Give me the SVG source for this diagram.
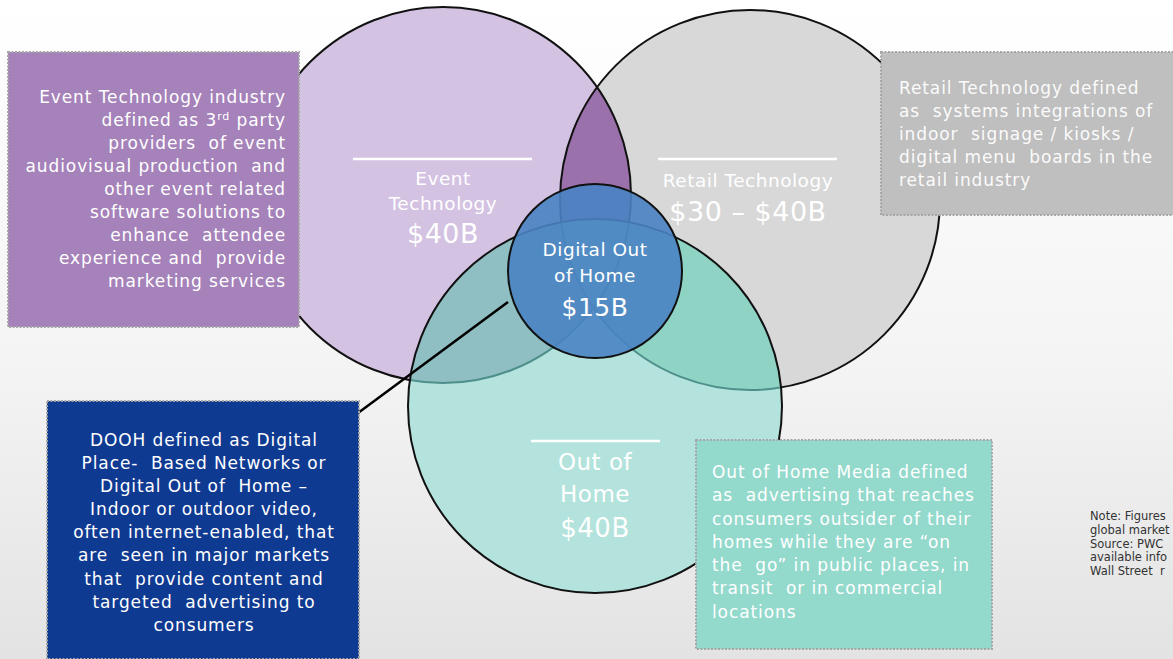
<svg xmlns="http://www.w3.org/2000/svg" width="1173" height="659" viewBox="0 0 1173 659">
  <defs>
    <linearGradient id="bg" x1="0" y1="0" x2="0" y2="1">
      <stop offset="0" stop-color="#ffffff"/>
      <stop offset="0.55" stop-color="#f4f4f4"/>
      <stop offset="1" stop-color="#e3e3e3"/>
    </linearGradient>
    <clipPath id="clipPurple"><circle cx="443" cy="195" r="188"/></clipPath>
    <clipPath id="clipGray"><circle cx="750" cy="200" r="190"/></clipPath>
    <clipPath id="clipTeal"><circle cx="595" cy="406" r="187"/></clipPath>
    <style>
      text { white-space: pre; }
      .ring { fill: none; stroke: #111; stroke-width: 2; }
      .inner-arc { fill: none; stroke: #4e8f8b; stroke-width: 2; }
      .box { stroke: #a6a6a6; stroke-width: 2; stroke-dasharray: 2 1.5; }
      .boxtext { font-family: "DejaVu Sans", "Liberation Sans", sans-serif; font-size: 17px; fill: #ffffff; letter-spacing: 0.9px; }
      .label { font-family: "DejaVu Sans", "Liberation Sans", sans-serif; fill: #ffffff; text-anchor: middle; letter-spacing: 0.5px; }
      .rule { stroke: #ffffff; stroke-width: 2.5; }
      .note { font-family: "DejaVu Sans", "Liberation Sans", sans-serif; font-size: 11.5px; fill: #333333; }
    </style>
  </defs>

  <rect width="1173" height="659" fill="url(#bg)"/>

  <!-- Venn circles -->
  <g id="circle-event">
    <circle cx="443" cy="195" r="188" fill="#d4c2e3"/>
  </g>
  <g id="circle-retail">
    <circle cx="750" cy="200" r="190" fill="#d8d8d8"/>
    <!-- event / retail overlap -->
    <circle cx="750" cy="200" r="190" fill="#9b71ab" clip-path="url(#clipPurple)"/>
  </g>
  <g id="outlines-upper">
    <circle class="ring" cx="443" cy="195" r="188"/>
    <circle class="ring" cx="750" cy="200" r="190"/>
  </g>
  <g id="circle-ooh">
    <circle cx="595" cy="406" r="187" fill="#b3e3dc"/>
    <circle cx="443" cy="195" r="188" fill="#8fbfc2" clip-path="url(#clipTeal)"/>
    <circle cx="750" cy="200" r="190" fill="#8fd3c4" clip-path="url(#clipTeal)"/>
    <g clip-path="url(#clipTeal)">
      <circle class="inner-arc" cx="443" cy="195" r="188"/>
      <circle class="inner-arc" cx="750" cy="200" r="190"/>
    </g>
    <circle class="ring" cx="595" cy="406" r="187"/>
  </g>
  <g id="circle-dooh">
    <circle cx="595" cy="271" r="87" fill="#4a83c3" fill-opacity="0.9"/>
    <circle class="ring" cx="595" cy="271" r="87"/>
  </g>

  <!-- circle labels -->
  <g id="label-event">
    <line class="rule" x1="353" y1="159" x2="532" y2="159"/>
    <text class="label" x="443" y="185" font-size="18.5">Event</text>
    <text class="label" x="443" y="210" font-size="18.5">Technology</text>
    <text class="label" x="443" y="243" font-size="27">$40B</text>
  </g>
  <g id="label-retail">
    <line class="rule" x1="658" y1="159" x2="837" y2="159"/>
    <text class="label" x="748" y="187" font-size="18.5">Retail Technology</text>
    <text class="label" x="748" y="221" font-size="27">$30 – $40B</text>
  </g>
  <g id="label-ooh">
    <line class="rule" x1="531" y1="441" x2="660" y2="441"/>
    <text class="label" x="595" y="470" font-size="23">Out of</text>
    <text class="label" x="595" y="502" font-size="23">Home</text>
    <text class="label" x="595" y="537" font-size="26">$40B</text>
  </g>
  <g id="label-dooh">
    <text class="label" x="595" y="256" font-size="18.5">Digital Out</text>
    <text class="label" x="595" y="282" font-size="18.5">of Home</text>
    <text class="label" x="595" y="316" font-size="25">$15B</text>
  </g>

  <!-- connector -->
  <g id="connectors">
    <line x1="358" y1="413" x2="508" y2="302" stroke="#000" stroke-width="2.5"/>
  </g>

  <!-- description boxes -->
  <g id="box-event">
    <rect class="box" x="8" y="52" width="291" height="275" fill="#a582b9"/>
    <g class="boxtext" text-anchor="end">
      <text x="286" y="103">Event Technology industry</text>
      <text x="286" y="126">defined as 3<tspan font-size="11" dy="-6">rd</tspan><tspan dy="6"> party</tspan></text>
      <text x="286" y="149">providers  of event</text>
      <text x="286" y="172">audiovisual production  and</text>
      <text x="286" y="195">other event related</text>
      <text x="286" y="218">software solutions to</text>
      <text x="286" y="241">enhance  attendee</text>
      <text x="286" y="264">experience and  provide</text>
      <text x="286" y="287">marketing services</text>
    </g>
  </g>

  <g id="box-retail">
    <rect class="box" x="881" y="52" width="300" height="163" fill="#bfbfbf"/>
    <g class="boxtext" fill-opacity="0.95">
      <text x="899" y="94">Retail Technology defined</text>
      <text x="899" y="117">as  systems integrations of</text>
      <text x="899" y="140">indoor  signage / kiosks /</text>
      <text x="899" y="163">digital menu  boards in the</text>
      <text x="899" y="186">retail industry</text>
    </g>
  </g>

  <g id="box-dooh">
    <rect class="box" x="47" y="401" width="312" height="258" fill="#0f3a92"/>
    <g class="boxtext" text-anchor="middle">
      <text x="204" y="446">DOOH defined as Digital</text>
      <text x="204" y="469">Place-  Based Networks or</text>
      <text x="204" y="492">Digital Out of  Home –</text>
      <text x="204" y="515">Indoor or outdoor video,</text>
      <text x="204" y="538">often internet-enabled, that</text>
      <text x="204" y="561">are  seen in major markets</text>
      <text x="204" y="585">that  provide content and</text>
      <text x="204" y="608">targeted  advertising to</text>
      <text x="204" y="631">consumers</text>
    </g>
  </g>

  <g id="box-ooh">
    <rect class="box" x="696" y="440" width="296" height="209" fill="#93d9cc"/>
    <g class="boxtext">
      <text x="712" y="478">Out of Home Media defined</text>
      <text x="712" y="501">as  advertising that reaches</text>
      <text x="712" y="525">consumers outsider of their</text>
      <text x="712" y="548">homes while they are “on</text>
      <text x="712" y="571">the  go” in public places, in</text>
      <text x="712" y="594">transit  or in commercial</text>
      <text x="712" y="618">locations</text>
    </g>
  </g>

  <g id="note">
    <text class="note" x="1090" y="520">Note: Figures</text>
    <text class="note" x="1090" y="534">global market</text>
    <text class="note" x="1090" y="548">Source: PWC</text>
    <text class="note" x="1090" y="561">available info</text>
    <text class="note" x="1090" y="575">Wall Street  r</text>
  </g>
</svg>
